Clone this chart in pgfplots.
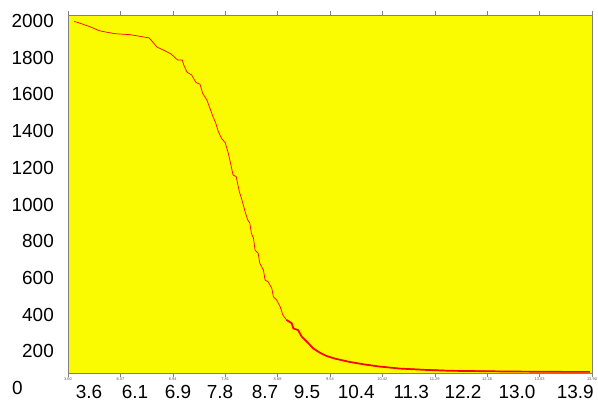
\documentclass[border=0pt]{standalone}
\usepackage{pgfplots}
\pgfplotsset{compat=1.18}
\usepackage{fontspec}
\setmainfont{Liberation Sans}
\definecolor{plotbg}{RGB}{250,250,0}
\definecolor{framegray}{RGB}{128,128,128}
\newcommand{\bigfont}{\fontsize{19}{19}\selectfont}
\newcommand{\tl}[1]{{\fontsize{4}{4}\selectfont\color{black!65}#1}}

\begin{document}
\begin{tikzpicture}
  \begin{axis}[
      name=ax,
      scale only axis,
      width=524bp, height=358bp,
      xmin=0, xmax=10,
      ymin=82, ymax=2033,
      axis background/.style={fill=plotbg},
      axis line style={framegray, line width=0.8bp},
      tick align=outside,
      major tick length=4bp,
      xtick={0,1,2,3,4,5,6,7,8,9,10},
      xticklabels={\tl{3.60},\tl{6.07},\tl{6.94},\tl{7.81},\tl{8.68},\tl{9.54},
                   \tl{10.42},\tl{11.29},\tl{12.16},\tl{13.03},\tl{13.90}},
      x tick style={framegray, line width=0.6bp},
      x tick label style={font=\bigfont, inner sep=0pt, anchor=north, yshift=-1bp},
      ytick={200,400,600,800,1000,1200,1400,1600,1800,2000},
      yticklabels={200,400,600,800,1000,1200,1400,1600,1800,2000},
      y tick style={draw=none},
      y tick label style={font=\bigfont, inner sep=0pt, anchor=east, xshift=-10bp},
      extra x ticks={0.40,1.28,2.10,2.90,3.76,4.56,5.50,6.55,7.54,8.57,9.68},
      extra x tick labels={3.6,6.1,6.9,7.8,8.7,9.5,10.4,11.3,12.2,13.0,13.9},
      extra x tick style={major tick length=0pt,
                          tick label style={yshift=-11bp}},
      clip=false,
  ]

    % main curve (traced)
    \addplot[red, line width=0.7bp] coordinates {
      (0.12,1998) (0.23,1988) (0.42,1969) (0.60,1947) (0.74,1939)
      (0.90,1931) (1.06,1928) (1.18,1926) (1.37,1917) (1.55,1908)
      (1.70,1858) (1.82,1842) (1.97,1820) (2.09,1788) (2.18,1788)
      (2.21,1760) (2.27,1722) (2.36,1706) (2.44,1666) (2.52,1655)
      (2.57,1606) (2.65,1570) (2.71,1524) (2.76,1484) (2.82,1443)
      (2.87,1397) (2.93,1361) (3.00,1337) (3.06,1279) (3.11,1215)
      (3.15,1161) (3.21,1152) (3.23,1124) (3.27,1070) (3.31,1034)
      (3.38,961)  (3.43,916)  (3.47,899)  (3.50,843)  (3.54,816)
      (3.57,752)  (3.63,734)  (3.66,680)  (3.73,643)  (3.76,589)
      (3.82,579)  (3.89,543)  (3.92,498)  (3.98,480)  (4.05,443)
      (4.10,398)  (4.17,371)  (4.27,353)  (4.30,325)  (4.39,316)
      (4.46,280)  (4.56,252)  (4.68,216)  (4.81,192)  (4.94,174)
      (5.10,160)  (5.38,142)  (5.67,128)  (5.95,117)  (6.34,106)
      (6.81,101)  (7.29,95)   (7.86,93)   (8.44,90)   (9.01,90)
      (9.58,87)   (9.96,87)
    };

    % thicker band in the dense tail
    \addplot[red, line width=1.7bp] coordinates {
      (4.17,371) (4.27,353) (4.30,325) (4.39,316) (4.46,280)
      (4.56,252) (4.68,216) (4.81,192) (4.94,174) (5.10,160)
      (5.38,142) (5.67,128) (5.95,117) (6.34,106) (6.81,99)
      (7.29,94)  (7.86,92)  (8.44,90)  (9.01,89)  (9.58,88) (9.96,88)
    };

    \node[anchor=west, inner sep=0pt, font=\bigfont]
      at ([xshift=-56bp]axis cs:0,0) {0};
  \end{axis}
  \pgfresetboundingbox
  \path[use as bounding box]
    ([xshift=-68bp,yshift=-33bp]ax.south west)
    rectangle ([xshift=6bp,yshift=15bp]ax.north east);
\end{tikzpicture}
\end{document}
